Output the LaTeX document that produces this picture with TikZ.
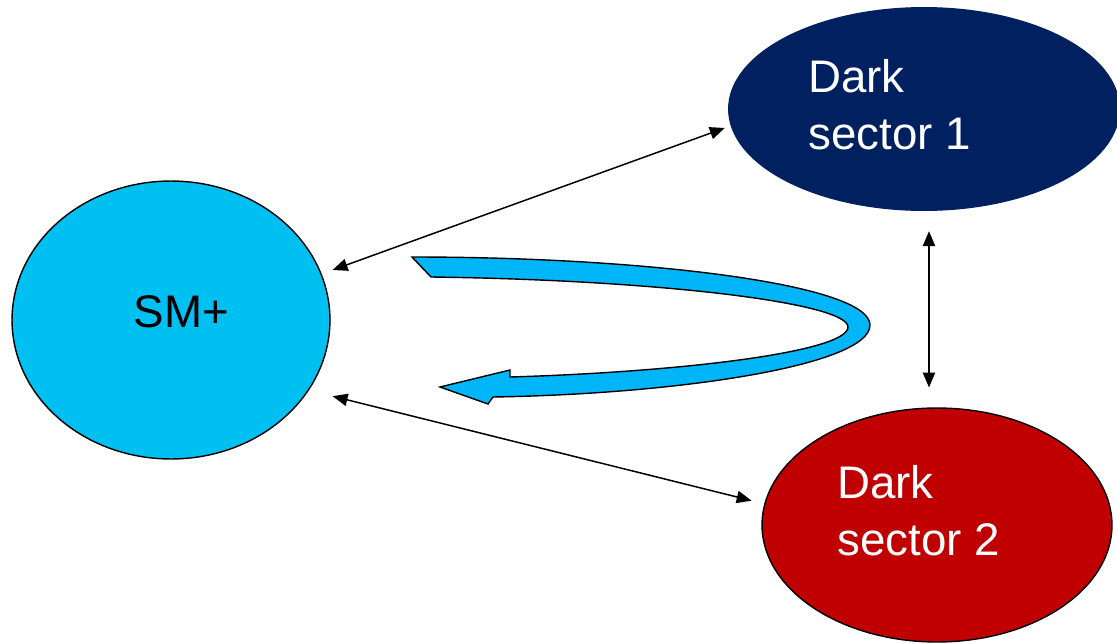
\documentclass[tikz,border=0pt]{standalone}
\usepackage{fontspec}
\setmainfont{Liberation Sans}
\usetikzlibrary{arrows.meta,shapes.geometric,calc}
\definecolor{smblue}{HTML}{00C0F2}
\definecolor{swirlblue}{HTML}{00B6F8}
\definecolor{darkone}{HTML}{002060}
\definecolor{darktwo}{HTML}{C00000}

\begin{document}
\begin{tikzpicture}[x=0.02cm,y=-0.02cm,
    blob/.style={ellipse,inner sep=0pt},
    tag/.style={inner sep=0pt,align=left,font=\fontsize{26}{32.3}\selectfont},
    link/.style={{Triangle[length=8.5pt,width=7pt]}-{Triangle[length=8.5pt,width=7pt]},line width=0.85pt}]
    \useasboundingbox (0,0) rectangle (1117,643);
    \clip (0,0) rectangle (1117,643);

    \node[blob,draw=black,line width=0.8pt,fill=smblue,minimum width=6.36cm,minimum height=5.56cm] (sm) at (171,320) {};
    \node[blob,fill=darkone,minimum width=7.84cm,minimum height=4.08cm] (ds1) at (924,109) {};
    \node[blob,draw=black,line width=0.8pt,fill=darktwo,minimum width=7cm,minimum height=4.68cm] (ds2) at (937,525) {};

    \node[tag] (smtxt) at ($(sm.center)+(10.5,-8.5)$) {SM+};
    \node[tag,text=white,anchor=west] (ds1txt) at ($(ds1.center)+(-116,-4)$) {Dark\\sector 1};
    \node[tag,text=white,anchor=west] (ds2txt) at ($(ds2.center)+(-100,-14)$) {Dark\\sector 2};

    \draw[link,shorten <=6.6pt,shorten >=3.4pt] (sm.17) -- (ds1.185.5); % upper link
    \draw[link,shorten <=13.9pt,shorten >=7.4pt] (sm.-27) -- (ds2.173); % lower link
    \draw[link,shorten <=11.3pt,shorten >=11.3pt] ([xshift=0.1cm]ds1.south) -- ([xshift=0.1cm]ds1.south |- ds2.north); % dark to dark

    % swirl arrow
    \draw[fill=swirlblue,line width=0.8pt,line join=miter]
        (412,257) .. controls (650,257) and (870,285) .. (870,325)
        .. controls (870,365) and (680,394) .. (493,397)
        -- (488,404) -- (440,387) -- (510,370) -- (510,377)
        .. controls (680,372) and (848,352) .. (848,327)
        .. controls (848,303) and (660,280) .. (431,277) -- cycle;

\end{tikzpicture}
\end{document}
